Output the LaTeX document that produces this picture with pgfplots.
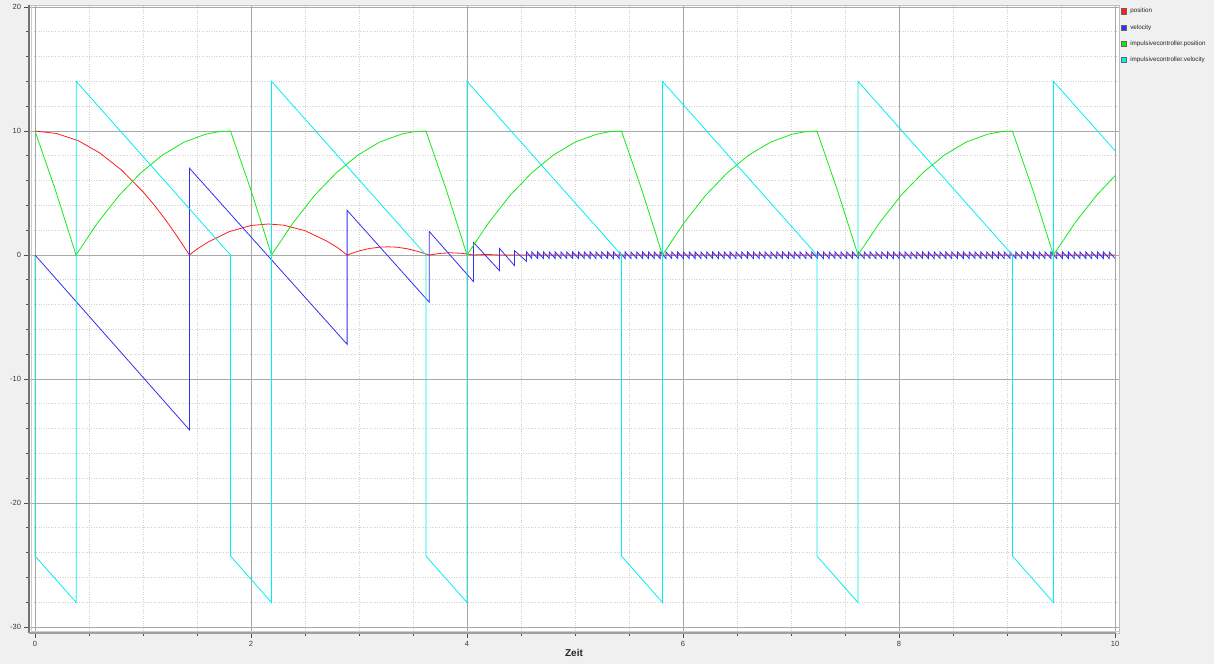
\documentclass[border=0pt]{standalone}
\usepackage{fontspec}
\setmainfont{Liberation Sans}
\usepackage{pgfplots}
\pgfplotsset{compat=1.18}
\definecolor{bg}{HTML}{F0F0F0}
\definecolor{majgrid}{HTML}{A8A8A8}
\definecolor{mingrid}{HTML}{CFCFCF}
\definecolor{ticklab}{HTML}{3A3A4A}
\definecolor{cred}{RGB}{255,30,30}
\definecolor{cblue}{RGB}{50,50,240}
\definecolor{cgreen}{RGB}{20,235,20}
\definecolor{ccyan}{RGB}{0,240,240}
\begin{document}
\begin{tikzpicture}[x=1pt,y=1pt]
\fill[bg] (0,0) rectangle (1214,664);
\path[use as bounding box] (0,0) rectangle (1214,664);
\begin{axis}[name=ax, at={(29pt,31pt)}, anchor=south west, scale only axis,
  width=1090pt, height=628pt,
  xmin=-0.0556, xmax=10.037, ymin=-30.48, ymax=20.16,
  xtick={0,2,4,6,8,10}, ytick={-30,-20,-10,0,10,20},
  minor x tick num=3, minor y tick num=4,
  grid=both,
  major grid style={majgrid, line width=0.9pt},
  minor grid style={mingrid, dotted, line width=0.8pt},
  axis background/.style={fill=white},
  axis line style={gray!50, line width=0.8pt},
  tick pos=left, tick align=outside,
  major tick length=4.5pt, minor tick length=3pt,
  tick style={black!70, line width=0.8pt},
  ticklabel style={font=\fontsize{7.5}{9}\selectfont, text=ticklab},
  /pgf/number format/assume math mode=true,
  xlabel={Zeit},
  xlabel style={font=\fontsize{10}{12}\selectfont\bfseries, at={(axis description cs:0.5,-0.0318)}, anchor=center, text=black!85},
  legend cell align=left,
  legend style={at={(1.00183,0.9951)}, anchor=north west, draw=none, fill=none,
    inner sep=0pt, row sep=10.4pt, column sep=3.3pt,
    font=\fontsize{6.3}{7.5}\selectfont, text=black!85,
    nodes={inner sep=0pt, text height=4.6pt, text depth=1.3pt}},
  legend image code/.code={\fill (0pt,-2.5pt) rectangle (5pt,2.5pt);
    \draw[black!60, line width=0.4pt] (0pt,-2.5pt) rectangle (5pt,2.5pt);},
]
% position
\addplot[cred, line width=0.8pt] coordinates {
(0,10) (0.2,9.80) (0.4,9.22) (0.6,8.23) (0.8,6.86) (1.0,5.10) (1.1,4.07) (1.2,2.94) (1.3,1.71) (1.35,1.06) (1.43,0)
(1.5,0.48) (1.6,1.03) (1.8,1.89) (2.0,2.38) (2.16,2.5) (2.3,2.41) (2.5,1.96) (2.7,1.13) (2.8,0.6) (2.89,0)
(3.0,0.33) (3.1,0.53) (3.2,0.64) (3.27,0.66) (3.35,0.63) (3.45,0.50) (3.55,0.28) (3.65,0)
(3.75,0.13) (3.85,0.18) (3.96,0.13) (4.06,0)
(4.18,0.05) (4.30,0) (10,0)
};
\addlegendentry{position}
% velocity
\addplot[cblue, line width=0.8pt] coordinates {
(0,0) (1.43,-14.1) (1.43,7.0) (2.89,-7.2) (2.89,3.6) (3.65,-3.8) (3.65,1.9) (4.06,-2.15) (4.06,1.02)
(4.30,-1.26) (4.30,0.54) (4.44,-0.86) (4.44,0.35) (4.55,-0.5) (4.55,0.27)
(4.600,-0.28)(4.600,0.25)(4.654,-0.28)(4.654,0.25)(4.708,-0.28)(4.708,0.25)(4.762,-0.28)(4.762,0.25)
(4.816,-0.28)(4.816,0.25)(4.870,-0.28)(4.870,0.25)(4.924,-0.28)(4.924,0.25)(4.978,-0.28)(4.978,0.25)
(5.032,-0.28)(5.032,0.25)(5.086,-0.28)(5.086,0.25)(5.140,-0.28)(5.140,0.25)(5.194,-0.28)(5.194,0.25)
(5.248,-0.28)(5.248,0.25)(5.302,-0.28)(5.302,0.25)(5.356,-0.28)(5.356,0.25)(5.410,-0.28)(5.410,0.25)
(5.464,-0.28)(5.464,0.25)(5.518,-0.28)(5.518,0.25)(5.572,-0.28)(5.572,0.25)(5.626,-0.28)(5.626,0.25)
(5.680,-0.28)(5.680,0.25)(5.734,-0.28)(5.734,0.25)(5.788,-0.28)(5.788,0.25)(5.842,-0.28)(5.842,0.25)
(5.896,-0.28)(5.896,0.25)(5.950,-0.28)(5.950,0.25)(6.004,-0.28)(6.004,0.25)(6.058,-0.28)(6.058,0.25)
(6.112,-0.28)(6.112,0.25)(6.166,-0.28)(6.166,0.25)(6.220,-0.28)(6.220,0.25)(6.274,-0.28)(6.274,0.25)
(6.328,-0.28)(6.328,0.25)(6.382,-0.28)(6.382,0.25)(6.436,-0.28)(6.436,0.25)(6.490,-0.28)(6.490,0.25)
(6.544,-0.28)(6.544,0.25)(6.598,-0.28)(6.598,0.25)(6.652,-0.28)(6.652,0.25)(6.706,-0.28)(6.706,0.25)
(6.760,-0.28)(6.760,0.25)(6.814,-0.28)(6.814,0.25)(6.868,-0.28)(6.868,0.25)(6.922,-0.28)(6.922,0.25)
(6.976,-0.28)(6.976,0.25)(7.030,-0.28)(7.030,0.25)(7.084,-0.28)(7.084,0.25)(7.138,-0.28)(7.138,0.25)
(7.192,-0.28)(7.192,0.25)(7.246,-0.28)(7.246,0.25)(7.300,-0.28)(7.300,0.25)(7.354,-0.28)(7.354,0.25)
(7.408,-0.28)(7.408,0.25)(7.462,-0.28)(7.462,0.25)(7.516,-0.28)(7.516,0.25)(7.570,-0.28)(7.570,0.25)
(7.624,-0.28)(7.624,0.25)(7.678,-0.28)(7.678,0.25)(7.732,-0.28)(7.732,0.25)(7.786,-0.28)(7.786,0.25)
(7.840,-0.28)(7.840,0.25)(7.894,-0.28)(7.894,0.25)(7.948,-0.28)(7.948,0.25)(8.002,-0.28)(8.002,0.25)
(8.056,-0.28)(8.056,0.25)(8.110,-0.28)(8.110,0.25)(8.164,-0.28)(8.164,0.25)(8.218,-0.28)(8.218,0.25)
(8.272,-0.28)(8.272,0.25)(8.326,-0.28)(8.326,0.25)(8.380,-0.28)(8.380,0.25)(8.434,-0.28)(8.434,0.25)
(8.488,-0.28)(8.488,0.25)(8.542,-0.28)(8.542,0.25)(8.596,-0.28)(8.596,0.25)(8.650,-0.28)(8.650,0.25)
(8.704,-0.28)(8.704,0.25)(8.758,-0.28)(8.758,0.25)(8.812,-0.28)(8.812,0.25)(8.866,-0.28)(8.866,0.25)
(8.920,-0.28)(8.920,0.25)(8.974,-0.28)(8.974,0.25)(9.028,-0.28)(9.028,0.25)(9.082,-0.28)(9.082,0.25)
(9.136,-0.28)(9.136,0.25)(9.190,-0.28)(9.190,0.25)(9.244,-0.28)(9.244,0.25)(9.298,-0.28)(9.298,0.25)
(9.352,-0.28)(9.352,0.25)(9.406,-0.28)(9.406,0.25)(9.460,-0.28)(9.460,0.25)(9.514,-0.28)(9.514,0.25)
(9.568,-0.28)(9.568,0.25)(9.622,-0.28)(9.622,0.25)(9.676,-0.28)(9.676,0.25)(9.730,-0.28)(9.730,0.25)
(9.784,-0.28)(9.784,0.25)(9.838,-0.28)(9.838,0.25)(9.892,-0.28)(9.892,0.25)(9.946,-0.28)(9.946,0.25)
(10.000,-0.28)
};
\addlegendentry{velocity}
% impulsivecontroller.position
\addplot[cgreen, line width=0.8pt] coordinates {
(0,10) (0.19,5.21) (0.38,0)
(0.58,2.60) (0.78,4.82) (0.98,6.63) (1.18,8.06) (1.38,9.10) (1.58,9.74) (1.70,9.94) (1.81,10)
(2.00,5.21) (2.19,0)
(2.39,2.60) (2.59,4.82) (2.79,6.63) (2.99,8.06) (3.19,9.10) (3.39,9.74) (3.51,9.94) (3.62,10)
(3.81,5.21) (4.00,0)
(4.20,2.60) (4.40,4.82) (4.60,6.63) (4.80,8.06) (5.00,9.10) (5.20,9.74) (5.32,9.94) (5.43,10)
(5.62,5.21) (5.81,0)
(6.01,2.60) (6.21,4.82) (6.41,6.63) (6.61,8.06) (6.81,9.10) (7.01,9.74) (7.13,9.94) (7.24,10)
(7.43,5.21) (7.62,0)
(7.82,2.60) (8.02,4.82) (8.22,6.63) (8.42,8.06) (8.62,9.10) (8.82,9.74) (8.94,9.94) (9.05,10)
(9.24,5.21) (9.43,0)
(9.63,2.60) (9.83,4.82) (10,6.39)
};
\addlegendentry{impulsivecontroller.position}
% impulsivecontroller.velocity
\addplot[ccyan, line width=0.8pt] coordinates {
(0,0) (0,-24.27) (0.382,-28.02) (0.382,14.0) (1.81,0) (1.81,-24.27) (2.19,-28.02) (2.19,14.0)
(3.62,0) (3.62,-24.27) (4.00,-28.02) (4.00,14.0) (5.43,0) (5.43,-24.27) (5.81,-28.02) (5.81,14.0)
(7.24,0) (7.24,-24.27) (7.62,-28.02) (7.62,14.0) (9.05,0) (9.05,-24.27) (9.43,-28.02) (9.43,14.0)
(10,8.41)
};
\addlegendentry{impulsivecontroller.velocity}
\end{axis}
\draw[gray!40, line width=0.8pt] ([xshift=2pt,yshift=2pt]ax.south west) -- ([xshift=2pt]ax.north west);
\draw[gray!40, line width=0.8pt] ([xshift=2pt,yshift=2pt]ax.south west) -- ([yshift=2pt]ax.south east);
\draw[black!55, line width=1.1pt] (ax.south west) -- (ax.north west);
\draw[gray!75, line width=1.5pt] (ax.south west) -- ([xshift=-3pt]ax.south east);
\end{tikzpicture}
\end{document}
